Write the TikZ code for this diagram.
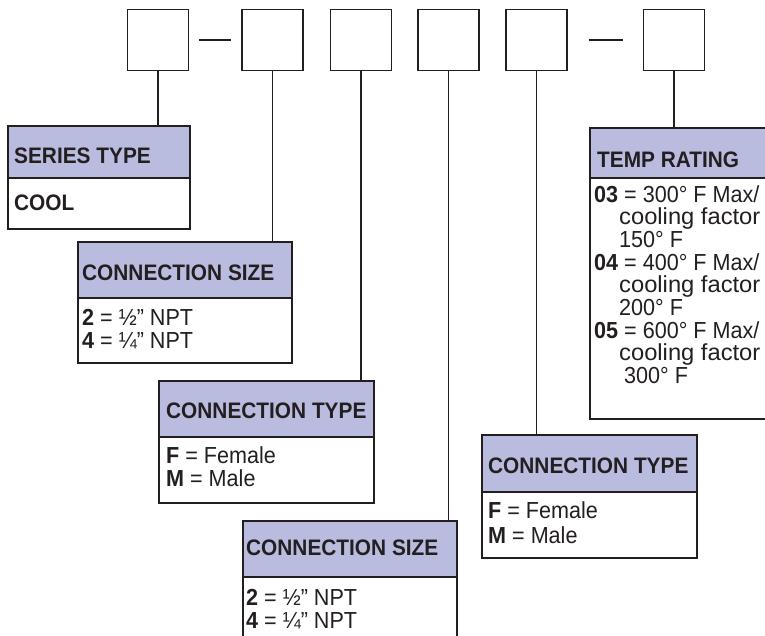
\documentclass[tikz,border=0pt]{standalone}
\usepackage{fontspec}
\usepackage{graphicx}
\setmainfont{Liberation Sans}[FakeStretch=0.93]
\definecolor{hdrfill}{HTML}{B9BCDF}
\definecolor{ink}{HTML}{231F20}
\newcommand{\cf}{\scalebox{1.1}[1]{cooling factor}}
\begin{document}
\begin{tikzpicture}[x=1pt,y=-1pt,
  every node/.style={font=\fontsize{23.2}{26}\selectfont, text=ink},
  digit/.style={draw=ink, line width=1.9pt, minimum width=61pt, minimum height=61pt, inner sep=0pt},
  hdr/.style={draw=ink, fill=hdrfill, line width=1.8pt, anchor=north west, inner sep=0pt},
  bod/.style={draw=ink, fill=white, line width=1.8pt, anchor=north west, inner sep=0pt},
  htxt/.style={anchor=base west, inner sep=0pt, font=\bfseries\fontsize{22.4}{26}\selectfont},
  btxt/.style={anchor=base west, inner sep=0pt},
  conn/.style={draw=ink, line width=1.8pt}]
\useasboundingbox (0,0) rectangle (765,635);
\clip (0,0) rectangle (765,635);
\fill[white] (0,0) rectangle (765,635);

% top code boxes
\node[digit] (t1) at (158,40) {};
\node[digit] (t2) at (272.5,40) {};
\node[digit] (t3) at (361,40) {};
\node[digit] (t4) at (448.5,40) {};
\node[digit] (t5) at (536.5,40) {};
\node[digit] (t6) at (674,40) {};
\draw[conn, line width=1.9pt, shorten <=10pt, shorten >=10pt] (t1.east) -- (t2.west);
\draw[conn, line width=1.9pt, shorten <=21pt, shorten >=20pt] (t5.east) -- (t6.west);

% SERIES TYPE
\node[bod, minimum width=182pt, minimum height=51pt] (stb) at (7,177) {};
\node[hdr, minimum width=182pt, minimum height=52pt] (st) at (7,125) {};
\node[htxt] (stt) at (14,163) {SERIES TYPE};
\node[htxt] (stl1) at (14,210) {COOL};

% CONNECTION SIZE (1)
\node[bod, minimum width=214pt, minimum height=65pt] (csab) at (77,297) {};
\node[hdr, minimum width=214pt, minimum height=56pt] (csa) at (77,241) {};
\node[htxt] (csat) at (82,280) {CONNECTION SIZE};
\node[btxt] (csal1) at (82,325) {\textbf{2} = ½” NPT};
\node[btxt] (csal2) at (82,348) {\textbf{4} = ¼” NPT};

% CONNECTION TYPE (1)
\node[bod, minimum width=215pt, minimum height=66pt] (ctab) at (158,436) {};
\node[hdr, minimum width=215pt, minimum height=56pt] (cta) at (158,380) {};
\node[htxt] (ctat) at (166,418) {CONNECTION TYPE};
\node[btxt] (ctal1) at (166,463) {\textbf{F} = Female};
\node[btxt] (ctal2) at (166,486) {\textbf{M} = Male};

% CONNECTION SIZE (2)
\node[bod, minimum width=214pt, minimum height=75pt] (csbb) at (242,576) {};
\node[hdr, minimum width=214pt, minimum height=56pt] (csb) at (242,520) {};
\node[htxt] (csbt) at (246,555) {CONNECTION SIZE};
\node[btxt] (csbl1) at (246,605) {\textbf{2} = ½” NPT};
\node[btxt] (csbl2) at (246,628) {\textbf{4} = ¼” NPT};

% CONNECTION TYPE (2)
\node[bod, minimum width=215pt, minimum height=66pt] (ctbb) at (481,491) {};
\node[hdr, minimum width=215pt, minimum height=57pt] (ctb) at (481,434) {};
\node[htxt] (ctbt) at (488,473) {CONNECTION TYPE};
\node[btxt] (ctbl1) at (488,518) {\textbf{F} = Female};
\node[btxt] (ctbl2) at (488,543) {\textbf{M} = Male};

% TEMP RATING
\node[bod, minimum width=215pt, minimum height=241pt] (trb) at (589,177) {};
\node[hdr, minimum width=215pt, minimum height=50pt] (tr) at (589,127) {};
\node[htxt] (trt) at (597,167) {TEMP RATING};
\foreach \t [count=\i] in {{\textbf{03} = 300° F Max/},{\hspace*{25pt}\cf},{\hspace*{25pt}150° F},
  {\textbf{04} = 400° F Max/},{\hspace*{25pt}\cf},{\hspace*{25pt}200° F},
  {\textbf{05} = 600° F Max/},{\hspace*{25pt}\cf},{\hspace*{30pt}300° F}}
  \node[btxt] (trl\i) at (594,202+22.7*\i-22.7) {\t};

% connectors
\draw[conn] (t1.south) -- (t1.south |- st.north);
\draw[conn] (t2.south) -- (t2.south |- csa.north);
\draw[conn] (t3.south) -- (t3.south |- cta.north);
\draw[conn] (t4.south) -- (t4.south |- csb.north);
\draw[conn] (t5.south) -- (t5.south |- ctb.north);
\draw[conn] (t6.south) -- (t6.south |- tr.north);
\end{tikzpicture}
\end{document}
